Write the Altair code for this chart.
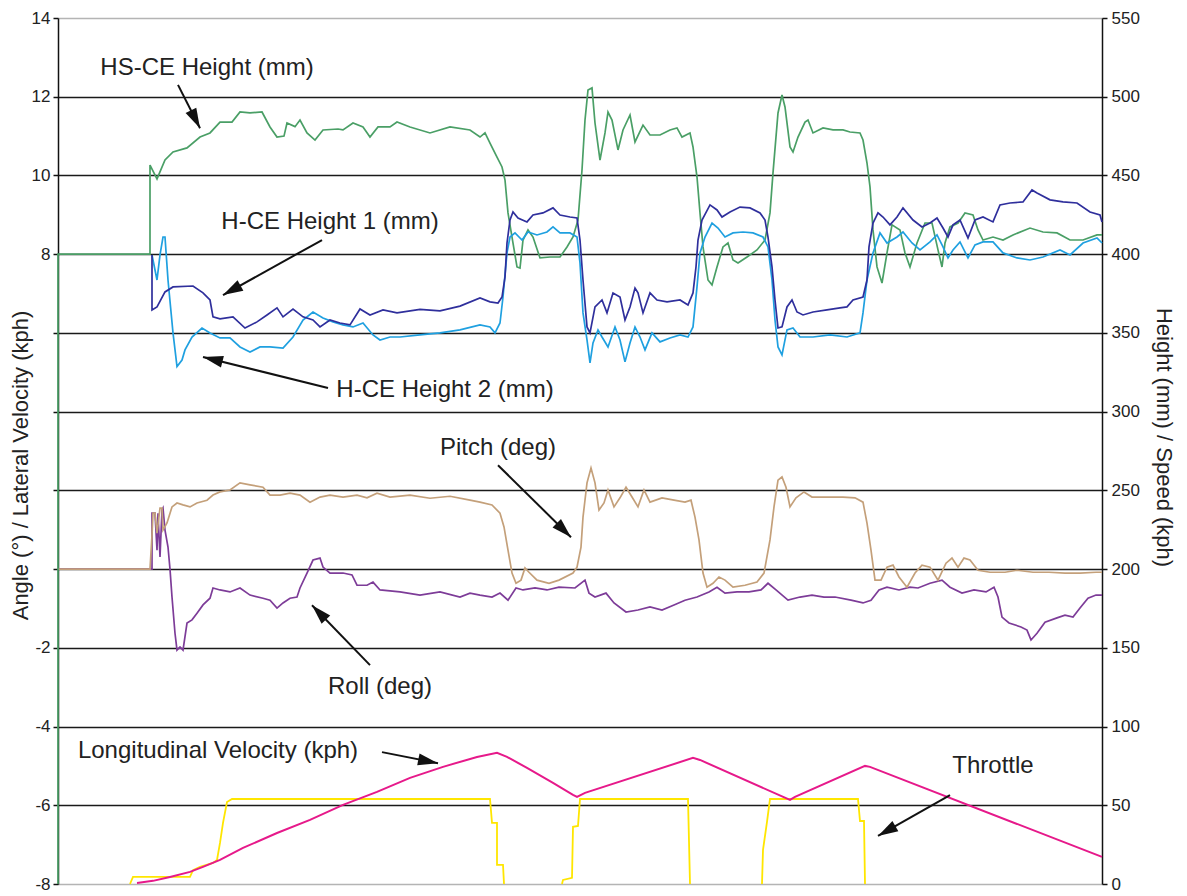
import math
import altair as alt
import pandas as pd

# ---------------- data (time in s, heights/speeds on right axis, angles on left axis) -------------
HSCE_T = [0, 0, 9.2, 9.2, 9.9, 10.7, 11.5, 12.9, 14.2, 15.2,
          16.2, 17.4, 18.2, 19.2, 20.4, 21.2, 21.9, 22.6, 22.9, 23.7,
          24.2, 24.9, 25.7, 26.5, 28.0, 28.5, 29.5, 30.5, 31.2, 32.0,
          33.2, 33.9, 35.2, 37.2, 39.2, 41.2, 42.2, 42.7, 43.2, 43.9,
          44.4, 44.7, 45.0, 45.4, 45.9, 46.2, 46.5, 47.0, 47.5, 48.2,
          49.2, 50.2, 50.9, 51.5, 52.0, 52.4, 52.7, 53.0, 53.4, 53.7,
          54.2, 54.7, 55.0, 55.4, 56.0, 56.5, 57.2, 57.7, 58.5, 59.2,
          60.2, 61.2, 61.9, 62.4, 63.2, 63.5, 63.9, 64.2, 64.5, 65.0,
          65.4, 65.9, 66.5, 67.0, 67.5, 68.0, 68.9, 69.9, 70.7, 71.2,
          71.5, 72.0, 72.4, 72.7, 73.2, 73.5, 74.0, 74.7, 75.0, 75.5,
          76.5, 77.5, 78.5, 79.2, 80.2, 80.5, 80.9, 81.2, 81.5, 81.9,
          82.4, 82.9, 83.4, 84.2, 84.7, 85.2, 85.9, 86.7, 87.4, 88.0,
          88.4, 88.7, 89.2, 90.0, 90.7, 91.5, 92.0, 92.5, 93.5, 94.5,
          95.5, 97.2, 98.5, 99.9, 101.2, 102.5, 103.9, 104.4]
HSCE_MM = [0, 400, 400, 456.6, 447.8, 459.8, 464.9, 467.5, 474.4, 477.0,
           483.9, 483.9, 490.3, 489.7, 490.3, 480.8, 474.4, 475.0, 483.3, 481.0,
           485.2, 477.0, 472.5, 478.9, 479.5, 478.9, 483.3, 480.8, 474.4, 480.8,
           480.8, 483.9, 480.8, 477.0, 480.8, 478.9, 474.4, 477.0, 470.6, 461.7,
           455.4, 447.1, 426.2, 410.9, 391.9, 391.2, 409.0, 415.4, 410.9, 397.6,
           398.2, 398.2, 404.6, 410.9, 421.7, 453.5, 485.2, 504.3, 505.6, 483.3,
           459.8, 477.0, 490.3, 485.2, 466.2, 478.9, 488.4, 471.3, 482.0, 475.7,
           475.7, 478.9, 480.2, 474.4, 477.0, 468.1, 449.0, 426.2, 404.6, 383.6,
           380.5, 391.9, 404.6, 407.1, 396.3, 394.4, 398.2, 402.7, 409.0, 426.2,
           451.6, 489.7, 501.1, 493.5, 468.1, 464.9, 474.4, 483.9, 485.2, 477.0,
           480.2, 478.9, 478.9, 477.6, 477.0, 472.5, 457.9, 442.7, 415.4, 391.9,
           381.7, 400.8, 418.6, 415.4, 400.8, 391.9, 407.1, 419.8, 419.8, 402.7,
           391.9, 407.1, 417.3, 419.8, 426.2, 424.9, 415.4, 409.0, 410.9, 409.0,
           412.2, 416.6, 414.1, 413.5, 409.0, 409.0, 412.2, 412.2]

HCE1_T = [9.4, 9.4, 9.9, 10.7, 11.5, 13.5, 14.5, 15.2, 15.5, 16.2,
          17.5, 18.7, 19.9, 20.9, 21.9, 22.5, 23.5, 24.5, 25.5, 26.2,
          27.2, 28.2, 29.2, 30.2, 31.2, 32.5, 33.9, 36.2, 38.2, 40.2,
          42.2, 43.2, 44.0, 44.4, 44.7, 44.9, 45.2, 45.5, 46.0, 46.9,
          47.5, 48.5, 49.5, 50.2, 51.2, 51.9, 52.2, 52.5, 52.9, 53.2,
          53.7, 54.4, 54.9, 55.5, 56.2, 56.7, 57.2, 57.7, 58.0, 58.5,
          59.2, 59.9, 60.9, 62.2, 63.0, 63.5, 63.8, 64.0, 64.4, 65.2,
          65.9, 66.4, 67.2, 68.2, 69.2, 70.2, 70.7, 71.0, 71.4, 71.7,
          72.0, 72.4, 72.9, 73.4, 73.9, 74.5, 75.5, 76.9, 78.2, 78.9,
          79.5, 80.5, 80.9, 81.1, 81.5, 82.0, 82.5, 83.2, 83.9, 84.5,
          85.5, 86.4, 87.2, 87.9, 88.5, 89.0, 89.5, 90.2, 91.0, 91.7,
          92.5, 93.5, 94.2, 95.2, 96.5, 97.4, 97.9, 99.2, 100.5, 101.9,
          103.2, 104.2, 104.4]
HCE1_MM = [399.5, 364.6, 366.5, 376.0, 379.2, 379.8, 375.4, 370.9, 360.2, 358.9,
           360.2, 353.1, 357.0, 361.4, 365.9, 360.2, 365.2, 360.2, 358.2, 353.8,
           358.2, 356.3, 355.1, 365.2, 361.4, 364.6, 362.7, 365.0, 364.0, 367.0,
           372.2, 369.7, 369.0, 372.8, 385.5, 407.1, 421.7, 426.8, 423.0, 420.5,
           424.9, 426.2, 429.4, 424.9, 423.6, 423.0, 409.0, 383.6, 353.8, 350.0,
           366.5, 370.9, 362.7, 375.4, 372.8, 358.2, 366.5, 378.5, 375.4, 362.7,
           375.4, 370.9, 369.7, 370.9, 367.7, 375.4, 391.9, 409.0, 421.7, 431.3,
           428.1, 423.6, 426.8, 429.9, 429.4, 426.2, 421.7, 410.9, 391.9, 370.9,
           353.1, 353.8, 366.5, 370.9, 363.3, 361.4, 363.3, 364.6, 365.9, 366.5,
           370.9, 372.8, 383.6, 404.6, 419.8, 426.2, 423.6, 418.6, 423.6, 429.4,
           421.7, 417.3, 419.8, 423.0, 416.6, 410.9, 418.6, 421.7, 410.3, 421.7,
           423.6, 420.5, 431.3, 432.5, 433.2, 440.8, 438.9, 434.5, 433.2, 432.5,
           426.8, 424.9, 420.5]

HCE2_T = [9.4, 9.9, 10.2, 10.5, 10.7, 11.0, 11.5, 11.9, 12.4, 12.7,
          13.4, 14.4, 15.2, 16.2, 17.2, 18.2, 19.2, 20.2, 21.2, 22.5,
          23.5, 24.5, 25.5, 26.5, 27.5, 28.5, 29.5, 30.5, 31.5, 32.2,
          33.2, 34.2, 36.2, 38.2, 40.2, 42.2, 43.2, 43.7, 44.2, 44.5,
          44.9, 45.2, 45.7, 46.4, 47.0, 47.9, 48.9, 49.5, 50.2, 51.2,
          51.9, 52.2, 52.5, 52.9, 53.2, 53.5, 54.0, 54.4, 55.0, 55.7,
          56.2, 56.7, 57.2, 57.7, 58.2, 58.7, 59.4, 60.2, 61.2, 62.2,
          63.0, 63.5, 63.9, 64.2, 64.7, 65.4, 66.0, 66.7, 67.5, 68.5,
          69.5, 70.5, 71.0, 71.4, 71.7, 72.0, 72.4, 72.9, 73.5, 74.2,
          75.5, 77.2, 78.9, 80.2, 80.5, 80.9, 81.5, 82.2, 82.9, 83.9,
          84.5, 85.4, 86.2, 87.2, 87.9, 88.5, 89.0, 89.5, 90.2, 91.0,
          91.7, 92.5, 93.5, 94.5, 95.9, 97.2, 98.5, 100.2, 101.2, 102.5,
          103.9, 104.4]
HCE2_MM = [399.5, 383.6, 399.5, 410.9, 410.9, 383.6, 350.0, 328.6, 332.8, 339.2,
           347.4, 353.1, 350.0, 346.8, 346.8, 341.1, 337.9, 341.1, 341.1, 340.4,
           347.4, 358.2, 363.3, 359.5, 357.0, 355.1, 353.8, 356.3, 348.7, 345.5,
           347.4, 347.4, 348.7, 350.0, 351.9, 355.1, 353.8, 350.0, 356.3, 372.8,
           400.8, 410.9, 413.5, 409.0, 414.1, 412.2, 414.1, 417.3, 413.5, 413.5,
           410.9, 394.4, 362.7, 345.5, 330.9, 343.6, 351.9, 347.4, 341.1, 353.8,
           345.5, 331.6, 343.6, 353.8, 347.4, 339.2, 350.0, 344.3, 346.8, 348.7,
           347.4, 353.8, 379.2, 400.8, 410.9, 419.8, 416.6, 410.9, 413.5, 414.1,
           413.5, 410.9, 404.6, 383.6, 358.2, 341.1, 336.0, 351.9, 353.1, 347.4,
           347.4, 348.7, 347.4, 350.0, 362.7, 383.6, 400.8, 413.5, 407.1, 410.9,
           414.1, 407.1, 402.7, 407.8, 412.2, 404.6, 397.6, 402.7, 407.8, 397.6,
           405.9, 407.8, 407.8, 400.8, 397.6, 396.3, 398.2, 402.7, 399.5, 407.1,
           410.3, 407.1]

PITCH_T = [0, 9.2, 9.4, 9.5, 9.7, 9.9, 10.2, 10.4, 10.5, 10.9,
           11.4, 11.9, 12.5, 13.2, 13.9, 14.9, 15.5, 16.2, 17.2, 18.2,
           19.2, 20.5, 21.2, 22.2, 23.2, 24.2, 25.2, 26.2, 27.2, 28.5,
           29.9, 30.9, 31.9, 33.2, 35.2, 37.2, 39.2, 41.2, 42.2, 43.4,
           44.2, 44.6, 45.0, 45.4, 45.8, 46.3, 46.7, 47.1, 47.9, 49.1,
           50.1, 51.5, 51.9, 52.3, 52.5, 52.9, 53.3, 53.7, 54.1, 54.6,
           55.0, 55.6, 56.2, 56.8, 57.4, 58.0, 58.6, 59.2, 60.4, 61.6,
           62.7, 63.3, 63.7, 64.1, 64.5, 64.9, 65.5, 66.1, 66.7, 67.5,
           68.7, 69.9, 70.6, 71.2, 71.6, 72.0, 72.4, 72.8, 73.2, 73.8,
           74.6, 75.4, 77.0, 78.5, 79.7, 80.5, 80.9, 81.3, 81.7, 82.3,
           82.9, 83.5, 84.1, 84.9, 85.7, 86.4, 87.2, 88.0, 88.8, 89.4,
           90.0, 90.6, 91.2, 92.0, 93.2, 94.7, 95.9, 97.5, 99.1, 100.7,
           102.2, 103.8, 104.4]
PITCH_DEG = [0, 0, 0.86, 1.42, 1.42, 0.91, 1.55, 1.55, 0.99, 1.17,
             1.58, 1.68, 1.63, 1.58, 1.68, 1.75, 1.88, 1.96, 2.01, 2.19,
             2.14, 2.08, 1.88, 1.88, 1.93, 1.88, 1.70, 1.83, 1.88, 1.83,
             1.88, 1.81, 1.93, 1.83, 1.88, 1.80, 1.85, 1.75, 1.70, 1.63,
             1.42, 1.07, 0.48, -0.10, -0.36, -0.28, 0.03, -0.08, -0.28, -0.36,
             -0.28, -0.10, 0.05, 0.56, 1.32, 2.19, 2.57, 2.19, 1.50, 1.68,
             2.01, 1.58, 1.81, 2.08, 1.83, 1.58, 2.01, 1.70, 1.81, 1.75,
             1.70, 1.75, 1.32, 0.74, -0.10, -0.46, -0.36, -0.20, -0.28, -0.46,
             -0.41, -0.33, -0.10, 0.74, 1.58, 2.26, 2.34, 2.08, 1.58, 1.81,
             1.96, 1.83, 1.83, 1.83, 1.81, 1.70, 1.17, 0.48, -0.28, -0.28,
             0.05, 0.10, -0.20, -0.46, -0.10, 0.10, 0.05, -0.28, 0.15, 0.28,
             0.05, 0.28, 0.23, -0.03, -0.08, -0.08, -0.03, -0.08, -0.08, -0.10,
             -0.10, -0.08, -0.08]

ROLL_T = [0, 9.4, 9.4, 9.7, 9.9, 10.0, 10.2, 10.4, 10.5, 10.7,
          11.0, 11.2, 11.4, 11.7, 11.9, 12.2, 12.5, 12.9, 13.4, 13.9,
          14.5, 15.2, 15.5, 16.2, 17.2, 18.2, 19.2, 20.5, 21.2, 21.9,
          22.5, 23.2, 23.9, 24.2, 24.9, 25.5, 26.2, 26.5, 27.2, 28.5,
          29.4, 29.9, 30.9, 31.5, 32.2, 34.2, 36.2, 38.2, 40.2, 41.2,
          42.2, 43.4, 44.2, 45.0, 45.8, 46.5, 47.7, 48.9, 50.1, 51.7,
          52.7, 53.1, 53.7, 54.8, 55.6, 56.8, 58.0, 59.2, 60.4, 61.6,
          62.7, 63.9, 65.1, 65.9, 66.7, 67.9, 69.1, 70.3, 71.0, 71.8,
          73.0, 74.2, 75.4, 76.6, 77.7, 79.3, 80.5, 81.3, 82.1, 82.9,
          84.1, 85.2, 86.0, 87.2, 88.4, 89.2, 90.4, 91.6, 92.8, 93.6,
          94.0, 94.4, 95.1, 96.3, 96.9, 97.3, 97.9, 98.7, 99.9, 100.7,
          101.5, 102.2, 103.0, 103.8, 104.4]
ROLL_DEG = [0, 0, 1.42, 1.42, 0.48, 1.42, 0.31, 1.50, 1.55, 0.99,
            0.56, 0, -0.71, -1.63, -2.06, -1.98, -2.06, -1.37, -1.29, -1.12,
            -0.91, -0.74, -0.48, -0.53, -0.58, -0.48, -0.66, -0.74, -0.79, -0.99,
            -0.86, -0.74, -0.71, -0.48, -0.10, 0.23, 0.28, 0.05, -0.10, -0.10,
            -0.15, -0.41, -0.41, -0.33, -0.53, -0.58, -0.66, -0.58, -0.71, -0.61,
            -0.66, -0.71, -0.61, -0.79, -0.48, -0.53, -0.48, -0.53, -0.46, -0.48,
            -0.28, -0.61, -0.71, -0.61, -0.86, -1.09, -1.04, -0.96, -1.04, -0.91,
            -0.79, -0.71, -0.58, -0.46, -0.61, -0.58, -0.58, -0.53, -0.36, -0.53,
            -0.79, -0.71, -0.66, -0.71, -0.71, -0.79, -0.86, -0.79, -0.53, -0.46,
            -0.53, -0.46, -0.48, -0.36, -0.28, -0.46, -0.61, -0.53, -0.58, -0.46,
            -0.71, -1.22, -1.37, -1.47, -1.55, -1.80, -1.63, -1.35, -1.24, -1.17,
            -1.22, -0.99, -0.74, -0.66, -0.66]

SPEED_T = [7.9, 9.5, 11.2, 13.2, 14.5, 16.2, 18.5, 21.9, 25.2, 28.5,
           31.9, 35.2, 38.5, 41.9, 43.9, 44.9, 46.9, 49.5, 51.5, 51.9,
           52.7, 63.5, 64.2, 73.2, 73.7, 80.7, 81.2, 104.4]
SPEED_KPH = [0.7, 2.0, 4.5, 7.7, 10.9, 15.3, 22.9, 32.4, 40.7, 50.3,
             58.5, 67.4, 74.4, 80.7, 83.3, 80.7, 73.8, 64.2, 56.6, 55.3,
             57.9, 80.1, 78.8, 53.4, 55.3, 75.0, 74.4, 17.2]

THROTTLE_T = [7.2, 7.5, 13.2, 13.5, 14.2, 15.5, 15.9, 16.2, 16.5, 16.9, 17.4,
              43.2, 43.4, 43.9, 43.9, 44.5, 44.6,
              50.4, 50.5, 51.4, 51.5, 52.0, 52.2, 63.0, 63.2,
              70.4, 70.5, 70.9, 71.2, 80.0, 80.2, 80.6, 80.7]
THROTTLE_V = [0, 4.5, 4.5, 8.8, 10.9, 13.4, 15.3, 26.1, 38.8, 52.1, 54.0,
              54.0, 38.8, 38.8, 12.2, 12.2, 0,
              0, 2.6, 3.9, 36.3, 36.9, 54.0, 54.0, 0,
              0, 21.7, 39.4, 54.0, 54.0, 40.0, 40.0, 0]
THROTTLE_SEG = [1] * 17 + [2] * 8 + [3] * 8

LEFT_TICKS = [-8, -6, -4, -2, 0, 2, 4, 6, 8, 10, 12, 14]
RIGHT_TICKS = [0, 50, 100, 150, 200, 250, 300, 350, 400, 450, 500, 550]

LABELS = ["HS-CE Height (mm)", "H-CE Height 1 (mm)", "H-CE Height 2 (mm)", "Pitch (deg)",
          "Roll (deg)", "Longitudinal Velocity (kph)", "Throttle"]
LABEL_T = [14.9, 27.2, 38.7, 44.0, 32.2, 16.0, 93.5]
LABEL_V = [12.73, 8.82, 4.55, 3.07, -3.00, -4.62, -5.00]
ARROW_T0 = [12.0, 26.4, 27.0, 44.0, 31.2, 32.4, 89.2]
ARROW_V0 = [12.30, 8.36, 4.60, 2.64, -2.44, -4.65, -5.74]
ARROW_T1 = [14.2, 16.5, 14.5, 51.3, 25.4, 38.0, 82.0]
ARROW_V1 = [11.20, 6.96, 5.39, 0.81, -0.92, -4.93, -6.78]

# ---------------- layout / style ----------------
W, H = 1044, 866
T_MAX = 104.4
LEFT_DOMAIN = [-8, 14]
RIGHT_DOMAIN = [0, 550]
FONT = "Liberation Sans"

xs = alt.Scale(domain=[0, T_MAX], nice=False, zero=False)
ys_left = alt.Scale(domain=LEFT_DOMAIN, nice=False, zero=False)
ys_right = alt.Scale(domain=RIGHT_DOMAIN, nice=False, zero=False)

left_axis = alt.Axis(
    orient="left", values=LEFT_TICKS,
    labelExpr="(datum.value >= 0 && datum.value <= 6) ? '' : ('' + datum.value)",
    grid=True,
    gridColor={"condition": {"test": "datum.value === 14 || datum.value === -8", "value": "#b4b4b4"},
               "value": "#1a1a1a"},
    gridWidth=1.6, domainColor="#111", domainWidth=1.5, tickColor="#111", tickWidth=1.5,
    tickSize=5, labelFont=FONT, labelFontSize=17, labelColor="#222", labelPadding=3,
    title="Angle (°) / Lateral Velocity (kph)", titleFont=FONT, titleFontSize=22,
    titleFontWeight="normal", titleColor="#222", titleX=-38, titleY=447,
    titleBaseline="middle", titleAlign="center")

right_axis = alt.Axis(
    orient="right", values=RIGHT_TICKS, grid=False,
    domainColor="#111", domainWidth=1.5, tickColor="#111", tickWidth=1.5, tickSize=5,
    labelFont=FONT, labelFontSize=17, labelColor="#222", labelPadding=4,
    title="Height (mm) / Speed (kph)", titleFont=FONT, titleFontSize=22,
    titleFontWeight="normal", titleColor="#222", titleX=61, titleY=419,
    titleBaseline="middle", titleAlign="center")


def frame(t, v, seg=None):
    d = pd.DataFrame({"t": t, "v": v})
    d["i"] = range(len(d))
    if seg is not None:
        d["seg"] = seg
    return d


def series(t, v, color, width, yscale, axis, seg=None):
    enc = dict(
        x=alt.X("t:Q", scale=xs, axis=None),
        y=alt.Y("v:Q", scale=yscale, axis=axis),
        order=alt.Order("i:Q"),
    )
    if seg is not None:
        enc["detail"] = alt.Detail("seg:N")
    return alt.Chart(frame(t, v, seg)).mark_line(color=color, strokeWidth=width).encode(**enc)


left_group = alt.layer(
    series(ROLL_T, ROLL_DEG, "#7d3c98", 1.7, ys_left, left_axis),
    series(PITCH_T, PITCH_DEG, "#c4a07a", 1.7, ys_left, left_axis),
)

right_group = alt.layer(
    series(HSCE_T, HSCE_MM, "#4a9f66", 1.7, ys_right, right_axis),
    series(HCE2_T, HCE2_MM, "#1fa0e0", 1.7, ys_right, right_axis),
    series(HCE1_T, HCE1_MM, "#2f2f9c", 1.7, ys_right, right_axis),
    series(THROTTLE_T, THROTTLE_V, "#ffe600", 1.8, ys_right, right_axis, seg=THROTTLE_SEG),
    series(SPEED_T, SPEED_KPH, "#e6198a", 2.0, ys_right, right_axis),
)

# annotations
px_per_t = W / T_MAX
px_per_v = H / (LEFT_DOMAIN[1] - LEFT_DOMAIN[0])
angles = []
for t0, v0, t1, v1 in zip(ARROW_T0, ARROW_V0, ARROW_T1, ARROW_V1):
    dx = (t1 - t0) * px_per_t
    dy = -(v1 - v0) * px_per_v
    angles.append(math.degrees(math.atan2(dx, -dy)) % 360)

arrows = pd.DataFrame({"t0": ARROW_T0, "v0": ARROW_V0, "t1": ARROW_T1, "v1": ARROW_V1, "ang": angles})
labels = pd.DataFrame({"label": LABELS, "t": LABEL_T, "v": LABEL_V})

shafts = alt.Chart(arrows).mark_rule(color="#111", strokeWidth=2).encode(
    x=alt.X("t0:Q", scale=xs, axis=None), x2="t1:Q",
    y=alt.Y("v0:Q", scale=ys_left, axis=None), y2="v1:Q")
heads = alt.Chart(arrows).mark_point(
    shape="M0,0L0.6,2L-0.6,2Z", filled=True, color="#111", size=400, opacity=1, strokeWidth=0
).encode(
    x=alt.X("t1:Q", scale=xs, axis=None),
    y=alt.Y("v1:Q", scale=ys_left, axis=None),
    angle=alt.Angle("ang:Q", scale=None))
texts = alt.Chart(labels).mark_text(
    font=FONT, fontSize=24, color="#222", align="center", baseline="middle"
).encode(
    x=alt.X("t:Q", scale=xs, axis=None),
    y=alt.Y("v:Q", scale=ys_left, axis=None),
    text="label:N")

annot_group = alt.layer(shafts, heads, texts)

chart = alt.layer(left_group, right_group, annot_group).resolve_scale(
    y="independent"
).properties(
    width=W, height=H,
    autosize=alt.AutoSizeParams(type="none"),
    padding={"left": 50, "top": 10, "right": 77, "bottom": 10},
).configure_view(stroke=None).configure(background="white")

chart.save("out.html", embed_options={"renderer": "svg", "actions": False})
